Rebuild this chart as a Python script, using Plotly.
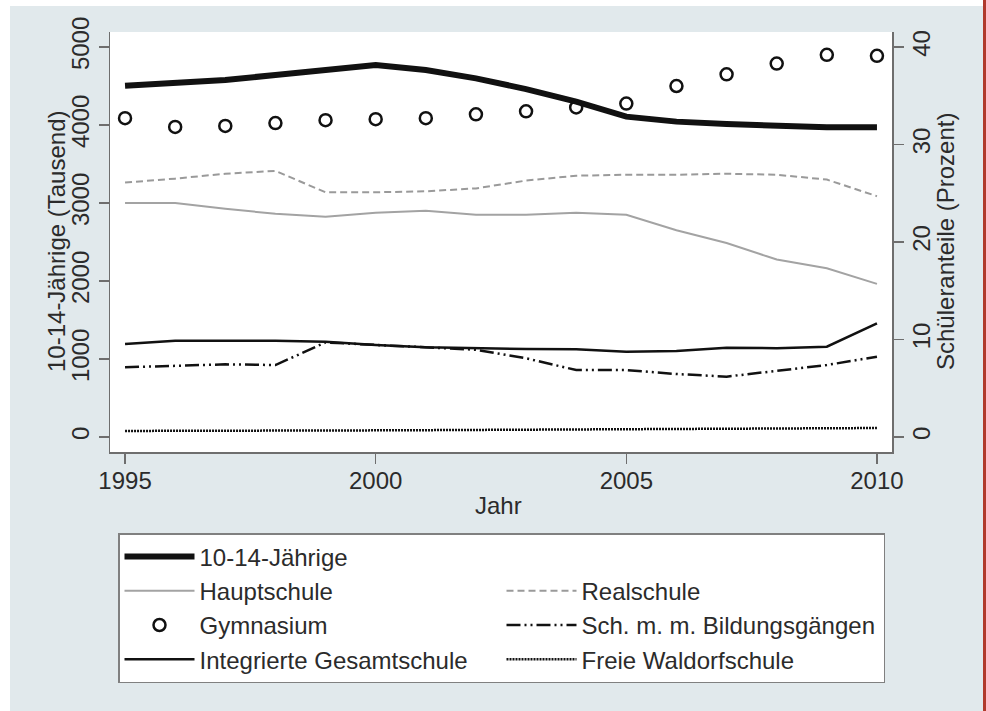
import plotly.graph_objects as go

years = list(range(1995, 2011))

# 10-14-Jährige (Tausend), left axis
kinder = [4504, 4534, 4577, 4641, 4705, 4769, 4705, 4598, 4460, 4300, 4107, 4043, 4013, 3987, 3970, 3970]

# Schüleranteile (Prozent), right axis
hauptschule = [24.0, 24.0, 23.4, 22.9, 22.6, 23.0, 23.2, 22.8, 22.8, 23.0, 22.8, 21.2, 19.9, 18.2, 17.3, 15.7]
realschule = [26.1, 26.5, 27.0, 27.3, 25.1, 25.1, 25.2, 25.5, 26.3, 26.8, 26.9, 26.9, 27.0, 26.9, 26.4, 24.7]
gymnasium = [32.7, 31.8, 31.9, 32.2, 32.5, 32.6, 32.7, 33.1, 33.4, 33.8, 34.2, 36.0, 37.2, 38.3, 39.2, 39.1]
mehrere_bg = [7.15, 7.3, 7.45, 7.38, 9.7, 9.44, 9.2, 8.95, 8.07, 6.87, 6.87, 6.46, 6.19, 6.8, 7.38, 8.24]
gesamtschule = [9.54, 9.88, 9.88, 9.88, 9.78, 9.44, 9.2, 9.1, 9.03, 9.0, 8.75, 8.82, 9.16, 9.1, 9.26, 11.66]
waldorf = [0.62, 0.62, 0.64, 0.66, 0.66, 0.68, 0.70, 0.72, 0.74, 0.76, 0.78, 0.82, 0.84, 0.86, 0.88, 0.92]

x_ticks = [1995, 2000, 2005, 2010]
left_ticks = [0, 1000, 2000, 3000, 4000, 5000]
right_ticks = [0, 10, 20, 30, 40]

x_title = "Jahr"
left_title = "10-14-Jährige (Tausend)"
right_title = "Schüleranteile (Prozent)"

FONT = "Liberation Sans, Arial, sans-serif"
TXT = "#2b2b2b"
AX = "#6e6e6e"
BG = "#e1e9ec"

fig = go.Figure()

fig.add_trace(go.Scatter(x=years, y=kinder, name="10-14-Jährige", mode="lines",
                         line=dict(color="#111111", width=6), yaxis="y"))
# empty legend slot so that the first legend row holds a single entry
fig.add_trace(go.Scatter(x=[None], y=[None], name=" ", mode="lines",
                         line=dict(color="rgba(0,0,0,0)", width=0), yaxis="y2", hoverinfo="skip"))
fig.add_trace(go.Scatter(x=years, y=hauptschule, name="Hauptschule", mode="lines",
                         line=dict(color="#a3a3a3", width=2), yaxis="y2"))
fig.add_trace(go.Scatter(x=years, y=realschule, name="Realschule", mode="lines",
                         line=dict(color="#9a9a9a", width=2, dash="7px,4px"), yaxis="y2"))
fig.add_trace(go.Scatter(x=years, y=gymnasium, name="Gymnasium", mode="markers",
                         marker=dict(symbol="circle-open", size=12, color="#111111",
                                     line=dict(width=2.5, color="#111111")), yaxis="y2"))
fig.add_trace(go.Scatter(x=years, y=mehrere_bg, name="Sch. m. m. Bildungsgängen", mode="lines",
                         line=dict(color="#111111", width=2.5, dash="14px,4px,2px,4px,2px,4px"), yaxis="y2"))
fig.add_trace(go.Scatter(x=years, y=gesamtschule, name="Integrierte Gesamtschule", mode="lines",
                         line=dict(color="#111111", width=2.5), yaxis="y2"))
fig.add_trace(go.Scatter(x=years, y=waldorf, name="Freie Waldorfschule", mode="lines",
                         line=dict(color="#111111", width=2.5, dash="2px,1px"), yaxis="y2"))

# page pixel -> paper coordinates
def px_x(p):
    return (p - 110) / 782.0

def px_y(q):
    return (452 - q) / 420.0

shapes = [
    dict(type="rect", xref="paper", yref="paper", x0=px_x(-5), x1=px_x(10), y0=px_y(-5), y1=px_y(720),
         fillcolor="white", line=dict(width=0), layer="below"),
    dict(type="rect", xref="paper", yref="paper", x0=px_x(-5), x1=px_x(983), y0=px_y(-5), y1=px_y(6),
         fillcolor="white", line=dict(width=0), layer="below"),
    dict(type="rect", xref="paper", yref="paper", x0=px_x(983), x1=px_x(995), y0=px_y(-10), y1=px_y(720),
         fillcolor="#b0392c", line=dict(width=0), layer="below"),
]

annotations = [
    dict(text=x_title, xref="paper", yref="paper", x=px_x(498), y=px_y(505),
         xanchor="center", yanchor="middle", showarrow=False, font=dict(size=24, color=TXT)),
    dict(text=left_title, xref="paper", yref="paper", x=px_x(56), y=px_y(242), textangle=-90,
         xanchor="center", yanchor="middle", showarrow=False, font=dict(size=24, color=TXT)),
    dict(text=right_title, xref="paper", yref="paper", x=px_x(945), y=px_y(242), textangle=-90,
         xanchor="center", yanchor="middle", showarrow=False, font=dict(size=24, color=TXT)),
]

fig.update_layout(
    width=986, height=711,
    margin=dict(l=110, r=94, t=32, b=259, pad=0, autoexpand=False),
    paper_bgcolor=BG, plot_bgcolor="white",
    font=dict(family=FONT, size=24, color=TXT),
    showlegend=True,
    legend=dict(orientation="h", x=px_x(118), y=px_y(533), xanchor="left", yanchor="top",
                bgcolor="white", bordercolor="#808080", borderwidth=1.5,
                font=dict(family=FONT, size=24, color=TXT),
                itemwidth=70, entrywidth=297, entrywidthmode="pixels",
                traceorder="normal", itemclick=False),
    xaxis=dict(range=[1994.70, 2010.30], tickvals=x_ticks, ticktext=[str(v) for v in x_ticks],
               showgrid=False, zeroline=False, showline=True, linecolor=AX, linewidth=1.5,
               ticks="outside", ticklen=10, tickcolor=AX, tickwidth=1.5, ticklabelstandoff=-3,
               tickfont=dict(size=24, color=TXT)),
    yaxis=dict(range=[-192, 5192], tickvals=left_ticks, ticktext=[str(v) for v in left_ticks],
               showgrid=False, zeroline=False, showline=True, linecolor=AX, linewidth=1.5,
               ticks="outside", ticklen=10, tickcolor=AX, tickwidth=1.5, tickangle=-90,
               tickfont=dict(size=24, color=TXT)),
    yaxis2=dict(range=[-1.54, 41.54], tickvals=right_ticks, ticktext=[str(v) for v in right_ticks],
                overlaying="y", side="right",
                showgrid=False, zeroline=False, showline=True, linecolor=AX, linewidth=1.5,
                ticks="outside", ticklen=10, tickcolor=AX, tickwidth=1.5, tickangle=-90,
                ticklabelstandoff=-2,
                tickfont=dict(size=24, color=TXT)),
    shapes=shapes,
    annotations=annotations,
)

fig.write_html(
    "out.html",
    config={"displayModeBar": False, "staticPlot": True},
    post_script="document.documentElement.style.margin='0';document.body.style.margin='0';"
                "document.body.style.overflow='hidden';",
)
